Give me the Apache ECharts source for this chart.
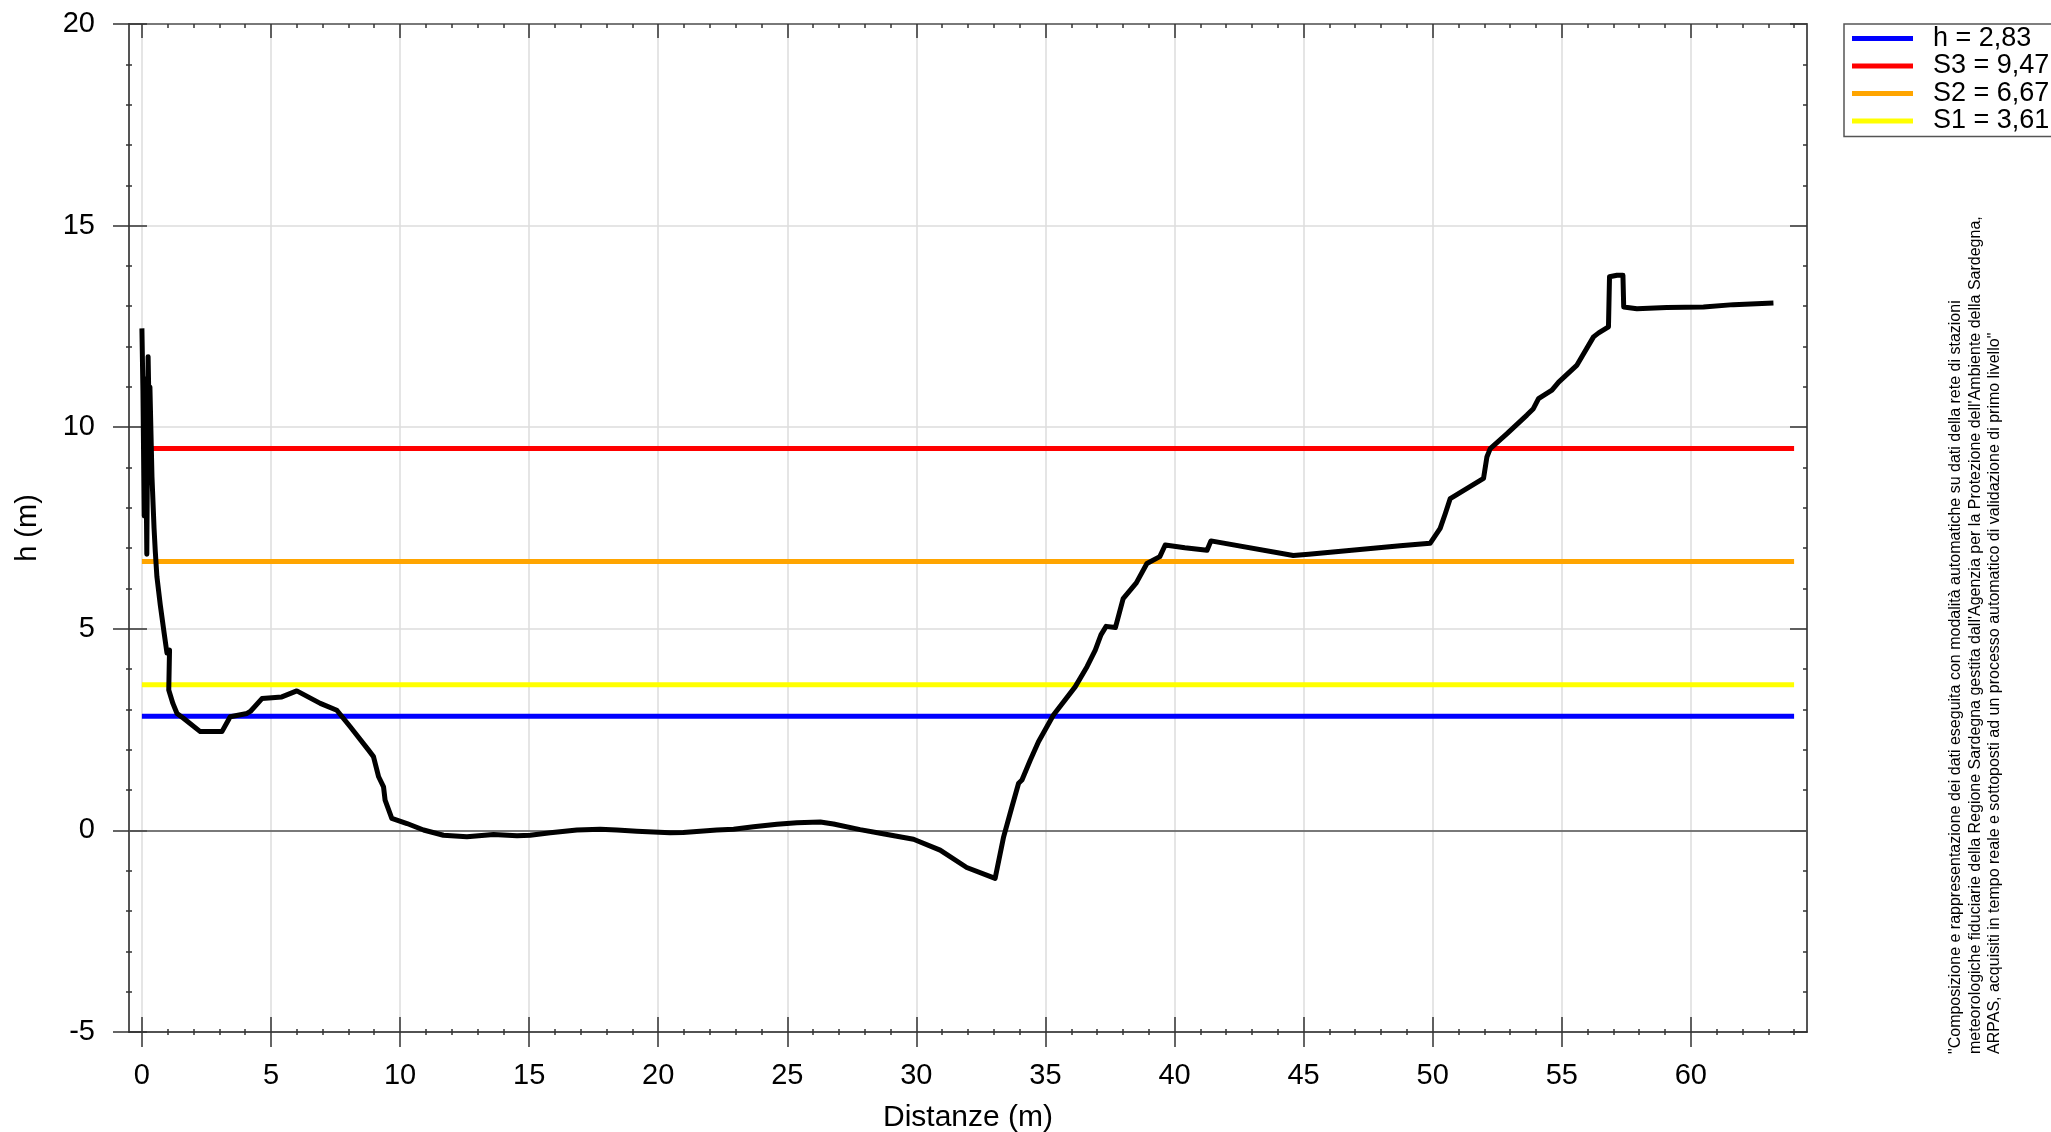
<!DOCTYPE html>
<html>
<head>
<meta charset="utf-8">
<script src="https://cdn.jsdelivr.net/npm/echarts@6/dist/echarts.min.js"></script>
<style>
html,body{margin:0;padding:0;background:#fff;}
#chart{width:2051px;height:1132px;}
</style>
</head>
<body>
<div id="chart"></div>
<script>
// ---- data ----
const distances = [0.00,0.04,0.09,0.12,0.16,0.19,0.24,0.28,0.31,0.39,0.47,0.52,0.58,0.71,0.86,0.97,1.07,1.04,1.20,1.36,1.61,2.26,3.10,3.42,4.07,4.20,4.65,5.42,6.00,6.91,7.55,8.07,8.78,8.97,9.17,9.36,9.42,9.68,10.27,10.91,11.68,12.59,13.62,14.53,15.04,15.82,16.85,17.75,18.40,19.17,20.46,20.97,22.27,22.92,23.69,24.60,25.37,26.28,26.79,27.82,28.60,29.89,30.92,31.95,33.05,33.38,33.70,33.96,34.09,34.41,34.73,35.31,36.15,36.61,36.93,37.15,37.35,37.71,38.01,38.52,38.93,39.43,39.64,40.40,41.26,41.41,44.60,45.20,48.74,49.90,50.29,50.49,50.68,51.97,52.10,52.23,52.88,53.65,53.90,54.10,54.62,54.88,55.59,56.23,56.43,56.81,56.85,57.14,57.37,57.40,57.91,59.07,60.49,61.65,63.20];
const heights = [12.45,10.9,7.8,11.2,9.0,6.85,11.75,10.3,11.0,8.77,7.5,6.9,6.3,5.6,4.9,4.4,4.47,3.48,3.15,2.9,2.78,2.45,2.45,2.82,2.90,2.95,3.27,3.31,3.46,3.15,2.98,2.57,1.99,1.83,1.33,1.08,0.75,0.30,0.17,0.01,-0.12,-0.16,-0.10,-0.13,-0.12,-0.06,0.01,0.03,0.01,-0.02,-0.06,-0.05,0.01,0.03,0.09,0.15,0.19,0.21,0.16,0.02,-0.07,-0.22,-0.49,-0.92,-1.19,-0.16,0.58,1.17,1.25,1.74,2.20,2.86,3.56,4.06,4.47,4.85,5.06,5.03,5.75,6.14,6.62,6.79,7.08,7.01,6.95,7.18,6.82,6.85,7.06,7.12,7.49,7.86,8.23,8.73,9.26,9.47,9.84,10.30,10.46,10.71,10.92,11.12,11.54,12.24,12.34,12.49,13.73,13.77,13.77,12.98,12.94,12.97,12.98,13.04,13.08];

const levelNames = ['h = 2,83', 'S3 = 9,47', 'S2 = 6,67', 'S1 = 3,61'];
const levelValues = [2.83, 9.47, 6.67, 3.61];
const levelStart = 0;
const levelEnd = 64;

const xMajorTicks = [0,5,10,15,20,25,30,35,40,45,50,55,60];
const xMinorTicks = [0,1,2,3,4,5,6,7,8,9,10,11,12,13,14,15,16,17,18,19,20,21,22,23,24,25,26,27,28,29,30,31,32,33,34,35,36,37,38,39,40,41,42,43,44,45,46,47,48,49,50,51,52,53,54,55,56,57,58,59,60,61,62,63,64];

const noteLines = [
  '"Composizione e rappresentazione dei dati eseguita con modalità automatiche su dati della rete di stazioni',
  "meteorologiche fiduciarie della Regione Sardegna gestita dall'Agenzia per la Protezione dell'Ambiente della Sardegna,",
  'ARPAS, acquisiti in tempo reale e sottoposti ad un processo automatico di validazione di primo livello"'
];

// ---- styles ----
const levelColors = ['#0000ff', '#ff0000', '#ffa500', '#ffff00'];
const FONT = '"Liberation Sans", Arial, sans-serif';
const AX = '#555555';
const TK = '#333333';
const X_MIN = -0.5, X_MAX = 64.5;

const chart = echarts.init(document.getElementById('chart'), null, {renderer: 'canvas'});

const hiddenAxisBase = {
  axisLine: {show: false},
  axisLabel: {show: false},
  splitLine: {show: false}
};

const xAxes = [
  { // main bottom
    type: 'value', min: X_MIN, max: X_MAX, position: 'bottom',
    axisLine: {show: true, onZero: false, lineStyle: {color: '#222', width: 1.5}},
    axisTick: {show: true, customValues: xMajorTicks, inside: false, length: 15, lineStyle: {color: TK, width: 1.5}},
    axisLabel: {show: true, customValues: xMajorTicks, margin: 29, fontSize: 29, color: '#000', fontFamily: FONT},
    splitLine: {show: true, lineStyle: {color: '#dcdcdc', width: 1.5}},
    name: 'Distanze (m)', nameLocation: 'middle', nameGap: 71,
    nameTextStyle: {fontSize: 30, color: '#000', fontFamily: FONT}
  },
  Object.assign({type: 'value', min: X_MIN, max: X_MAX, position: 'bottom',
    axisTick: {show: true, customValues: xMajorTicks, inside: true, length: 15, lineStyle: {color: TK, width: 1.5}}}, hiddenAxisBase,
    {axisLine: {show: false, onZero: false}}),
  Object.assign({type: 'value', min: X_MIN, max: X_MAX, position: 'bottom', offset: -3,
    axisTick: {show: true, customValues: xMinorTicks, inside: false, length: 6, lineStyle: {color: TK, width: 1.5}}}, hiddenAxisBase,
    {axisLine: {show: false, onZero: false}}),
  { // top frame
    type: 'value', min: X_MIN, max: X_MAX, position: 'top',
    axisLine: {show: true, onZero: false, lineStyle: {color: AX, width: 1.5}},
    axisTick: {show: true, customValues: xMajorTicks, inside: true, length: 14, lineStyle: {color: TK, width: 1.5}},
    axisLabel: {show: false}, splitLine: {show: false}
  },
  Object.assign({type: 'value', min: X_MIN, max: X_MAX, position: 'top',
    axisTick: {show: true, customValues: xMinorTicks, inside: true, length: 4, lineStyle: {color: TK, width: 1.5}}}, hiddenAxisBase,
    {axisLine: {show: false, onZero: false}})
];

const yAxes = [
  { // main left
    type: 'value', min: -5, max: 20, interval: 5, position: 'left',
    axisLine: {show: true, onZero: false, lineStyle: {color: AX, width: 2}},
    axisTick: {show: true, inside: false, length: 16, lineStyle: {color: TK, width: 1.5}},
    axisLabel: {show: true, margin: 34, fontSize: 29, color: '#000', fontFamily: FONT},
    splitLine: {show: true, lineStyle: {color: '#dcdcdc', width: 1.5}},
    name: 'h (m)', nameLocation: 'middle', nameGap: 87, nameRotate: 90,
    nameTextStyle: {fontSize: 29, color: '#000', fontFamily: FONT}
  },
  Object.assign({type: 'value', min: -5, max: 20, interval: 5, position: 'left',
    axisTick: {show: true, inside: true, length: 18, lineStyle: {color: TK, width: 1.5}}}, hiddenAxisBase,
    {axisLine: {show: false, onZero: false}}),
  Object.assign({type: 'value', min: -5, max: 20, interval: 1, position: 'left', offset: -3,
    axisTick: {show: true, inside: false, length: 6, lineStyle: {color: TK, width: 1.5}}}, hiddenAxisBase,
    {axisLine: {show: false, onZero: false}}),
  { // right frame
    type: 'value', min: -5, max: 20, interval: 5, position: 'right',
    axisLine: {show: true, onZero: false, lineStyle: {color: AX, width: 2}},
    axisTick: {show: true, inside: true, length: 17, lineStyle: {color: TK, width: 1.5}},
    axisLabel: {show: false}, splitLine: {show: false}
  },
  Object.assign({type: 'value', min: -5, max: 20, interval: 1, position: 'right',
    axisTick: {show: true, inside: true, length: 4, lineStyle: {color: TK, width: 1.5}}}, hiddenAxisBase,
    {axisLine: {show: false, onZero: false}})
];

const profileData = distances.map((d, i) => [d, heights[i]]);

const series = [];
// zero line
series.push({
  type: 'line', name: '__zero', data: [], z: 1, silent: true,
  markLine: {
    silent: true, symbol: ['none', 'none'], animation: false,
    label: {show: false},
    lineStyle: {color: '#555', width: 1.5, type: 'solid'},
    emphasis: {disabled: true},
    data: [{yAxis: 0}]
  }
});
levelNames.forEach((n, i) => {
  series.push({
    type: 'line', name: n, z: 3,
    data: [[levelStart, levelValues[i]], [levelEnd, levelValues[i]]],
    symbol: 'none', showSymbol: false,
    lineStyle: {color: levelColors[i], width: 5},
    itemStyle: {color: levelColors[i]},
    emphasis: {disabled: true},
    silent: true
  });
});
series.push({
  type: 'line', name: 'profilo', z: 5,
  data: profileData,
  symbol: 'none', showSymbol: false,
  lineStyle: {color: '#000', width: 5, join: 'round'},
  itemStyle: {color: '#000'},
  emphasis: {disabled: true},
  silent: true
});

const option = {
  animation: false,
  backgroundColor: '#ffffff',
  grid: {left: 129, top: 24, width: 1678, height: 1008, containLabel: false, outerBoundsMode: 'none'},
  xAxis: xAxes,
  yAxis: yAxes,
  legend: {
    data: levelNames,
    orient: 'vertical',
    left: 1844, top: 24,
    padding: [1, 200, 2, 8],
    borderColor: '#555', borderWidth: 1.5,
    icon: 'rect', itemWidth: 61, itemHeight: 5, itemGap: 0.5,
    selectedMode: false,
    textStyle: {fontSize: 27, lineHeight: 27, color: '#000', fontFamily: FONT, padding: [0, 0, 0, 15]}
  },
  graphic: [{
    type: 'text',
    x: 1946, y: 1054,
    rotation: Math.PI / 2,
    silent: true,
    style: {
      text: noteLines.join('\n'),
      font: '16px "Liberation Sans Narrow", "Arial Narrow", "Liberation Sans", sans-serif',
      lineHeight: 19.5,
      fill: '#000',
      textAlign: 'left',
      textVerticalAlign: 'top'
    }
  }],
  series: series
};
chart.setOption(option);
</script>
</body>
</html>
